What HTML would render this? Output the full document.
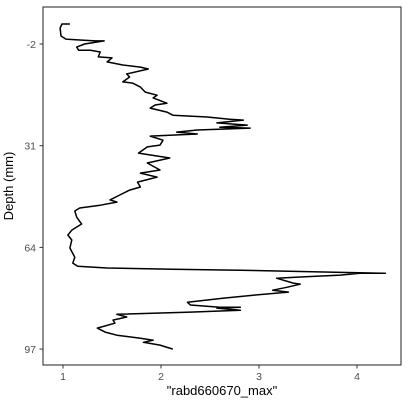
<!DOCTYPE html>
<html><head><meta charset="utf-8"><style>
body{margin:0;background:#fff;}
svg{display:block;font-family:"Liberation Sans",Arial,sans-serif;}
</style></head><body>
<svg id="chart" width="409" height="407">
<rect x="43" y="7" width="358" height="358" fill="none" stroke="#333" stroke-width="1.1"/>
<g id="ticks"></g>
<path id="line" fill="none" stroke="#000" stroke-width="1.5" stroke-linejoin="round"/>
<text x="13" y="186" transform="rotate(-90 13 186)" text-anchor="middle" font-size="13" fill="#000">Depth (mm)</text>
<text x="222" y="395" text-anchor="middle" font-size="13" fill="#000">"rabd660670_max"</text>
</svg>
<script>
const values=[1.07,0.99,0.97,0.98,1.03,1.17,1.33,1.42,1.22,1.14,1.16,1.28,1.38,1.36,1.50,1.45,1.61,1.79,1.87,1.65,1.68,1.61,1.71,1.79,1.84,1.96,1.92,2.06,1.94,1.89,2.06,2.12,2.47,2.70,2.84,2.57,2.88,2.60,2.91,2.37,2.16,2.37,1.89,2.02,1.99,1.86,1.77,2.09,1.86,1.99,1.79,1.96,1.76,1.79,1.68,1.58,1.48,1.55,1.38,1.17,1.12,1.14,1.19,1.09,1.05,1.09,1.07,1.12,1.10,1.15,1.45,2.12,2.81,4.29,4.03,3.83,3.42,3.18,3.35,3.42,3.29,3.14,3.30,2.94,2.63,2.27,2.30,2.60,2.81,2.57,2.81,2.30,1.55,1.65,1.51,1.53,1.35,1.43,1.55,1.79,1.92,1.82,1.99,2.12];
const depths=[-8.5,-8.5,-7.2,-4.6,-3.6,-3.3,-3.0,-3.0,-2.0,-1.0,0.0,0.0,0.6,2.2,2.5,3.8,4.8,5.5,6.1,7.7,8.7,10.3,10.7,12.0,13.6,14.6,15.5,17.2,17.8,18.8,20.1,21.1,21.7,22.4,22.7,23.6,24.3,25.0,25.3,25.9,26.6,27.2,27.9,29.2,30.8,31.4,33.4,35.0,36.6,38.9,39.9,41.2,42.8,44.4,45.4,47.0,48.6,49.3,50.3,51.2,52.2,54.2,56.4,58.4,60.0,61.6,64.2,67.2,69.1,70.1,70.7,71.1,71.4,72.4,72.4,73.0,73.6,74.0,75.6,75.9,76.9,77.9,78.5,79.5,80.5,81.8,82.7,83.4,83.4,83.7,84.4,85.0,85.7,86.6,87.6,88.6,90.2,91.5,92.5,93.5,94.1,94.8,95.7,97.0];
const xTicks=[1,2,3,4];
const yTicks=[-2,31,64,97];
function sx(v){return 63+(v-1)*98;}
function sy(d){return 44+(d+2)*3.0818;}
const NS="http://www.w3.org/2000/svg";
let dstr="";
for(let i=0;i<values.length;i++){dstr+=(i?"L":"M")+sx(values[i]).toFixed(1)+","+sy(depths[i]).toFixed(1);}
document.getElementById('line').setAttribute('d',dstr);
const g=document.getElementById('ticks');
xTicks.forEach(t=>{
 const l=document.createElementNS(NS,'line');
 l.setAttribute('x1',sx(t));l.setAttribute('x2',sx(t));l.setAttribute('y1',365);l.setAttribute('y2',368.5);l.setAttribute('stroke','#333');
 
 
 g.appendChild(l);
 const tx=document.createElementNS(NS,'text');
 tx.setAttribute('x',sx(t));tx.setAttribute('y',380);tx.setAttribute('text-anchor','middle');tx.setAttribute('font-size','10.5');tx.setAttribute('fill','#4d4d4d');
 tx.textContent=t;
 
 
 g.appendChild(tx);
});
yTicks.forEach(t=>{
 const l=document.createElementNS(NS,'line');
 l.setAttribute('x1',39.5);l.setAttribute('x2',43);l.setAttribute('y1',sy(t));l.setAttribute('y2',sy(t));l.setAttribute('stroke','#333');
 
 
 g.appendChild(l);
 const tx=document.createElementNS(NS,'text');
 tx.setAttribute('x',36);tx.setAttribute('y',sy(t)+4);tx.setAttribute('text-anchor','end');tx.setAttribute('font-size','10.5');tx.setAttribute('fill','#4d4d4d');
 tx.textContent=t;
 
 
 g.appendChild(tx);
});
</script>
</body></html>
